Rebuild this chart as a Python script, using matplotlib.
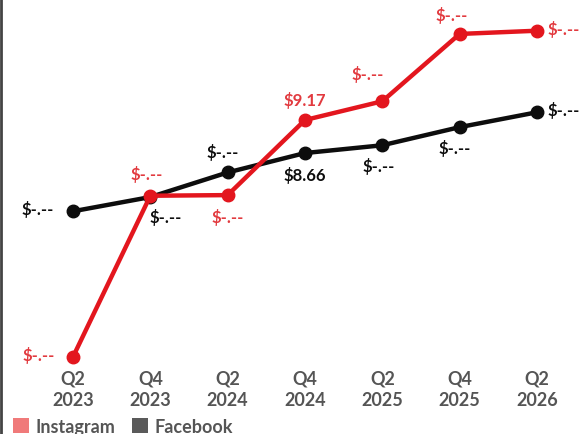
import matplotlib
matplotlib.use("Agg")
import matplotlib.pyplot as plt
from matplotlib.patches import Patch
from matplotlib.lines import Line2D

quarters = ["Q2\n2023", "Q4\n2023", "Q2\n2024", "Q4\n2024", "Q2\n2025", "Q4\n2025", "Q2\n2026"]
instagram = [5.51, 8.00, 8.01, 9.17, 9.46, 10.50, 10.55]
facebook = [7.76, 7.98, 8.36, 8.66, 8.78, 9.06, 9.29]
instagram_labels = ["$-.--", "$-.--", "$-.--", "$9.17", "$-.--", "$-.--", "$-.--"]
facebook_labels = ["$-.--", "$-.--", "$-.--", "$8.66", "$-.--", "$-.--", "$-.--"]

# label offsets in pixels (dx, dy, ha)
ig_off = [(-34, -6, "center"), (-4, 14, "center"), (0, -30, "center"), (0, 12, "center"),
          (-15, 19, "center"), (-8, 11, "center"), (11, -6, "left")]
fb_off = [(-35, -6, "center"), (15, -28, "center"), (-5, 12, "center"), (0, -30, "center"),
          (-4, -29, "center"), (-5, -29, "center"), (11, -6, "left")]

RED = "#e3161e"
RED_TXT = "#e23a3f"
BLACK = "#0d0d0d"
GRAY = "#555555"

plt.rcParams["font.family"] = ["Lato", "DejaVu Sans"]

fig = plt.figure(figsize=(5.85, 4.35), dpi=100)
ax = fig.add_axes([0, (435 - 368) / 435, 1, 368 / 435])
x = list(range(len(quarters)))

ax.plot(x, facebook, color=BLACK, lw=3.2, marker="o", ms=9, zorder=3, clip_on=False)
ax.plot(x, instagram, color=RED, lw=3.2, marker="o", ms=9, zorder=4, clip_on=False)

for i, (v, t) in enumerate(zip(instagram, instagram_labels)):
    dx, dy, ha = ig_off[i]
    ax.annotate(t, (i, v), xytext=(dx, dy), textcoords="offset pixels", ha=ha, va="bottom",
                color=RED_TXT, fontsize=12, fontweight="bold", zorder=5, annotation_clip=False)
for i, (v, t) in enumerate(zip(facebook, facebook_labels)):
    dx, dy, ha = fb_off[i]
    ax.annotate(t, (i, v), xytext=(dx, dy), textcoords="offset pixels", ha=ha, va="bottom",
                color=BLACK, fontsize=12, fontweight="bold", zorder=5, annotation_clip=False)

ax.set_xlim(-73 / 77.33, 6 + 48 / 77.33)
ax.set_ylim(5.354, 11.04)
ax.set_xticks(x)
ax.set_xticklabels(quarters, fontsize=13, fontweight="bold", color=GRAY, linespacing=1.3)
ax.tick_params(axis="x", length=0, pad=2)
ax.set_yticks([])
for s in ax.spines.values():
    s.set_visible(False)

handles = [Patch(facecolor="#f07a7a", edgecolor="none"), Patch(facecolor="#5a5a5a", edgecolor="none")]
fig.legend(handles, ["Instagram", "Facebook"], loc="lower left", bbox_to_anchor=(0.022, -0.002),
           ncol=2, frameon=False, labelcolor=GRAY, handlelength=0.9, handleheight=0.9,
           handletextpad=0.35, columnspacing=0.9, borderpad=0, borderaxespad=0,
           prop={"weight": "bold", "size": 13})

fig.add_artist(Line2D([0.002, 0.002], [0, 1], color="#444444", lw=2, transform=fig.transFigure))

fig.savefig("out.png", dpi=100, facecolor="white")
